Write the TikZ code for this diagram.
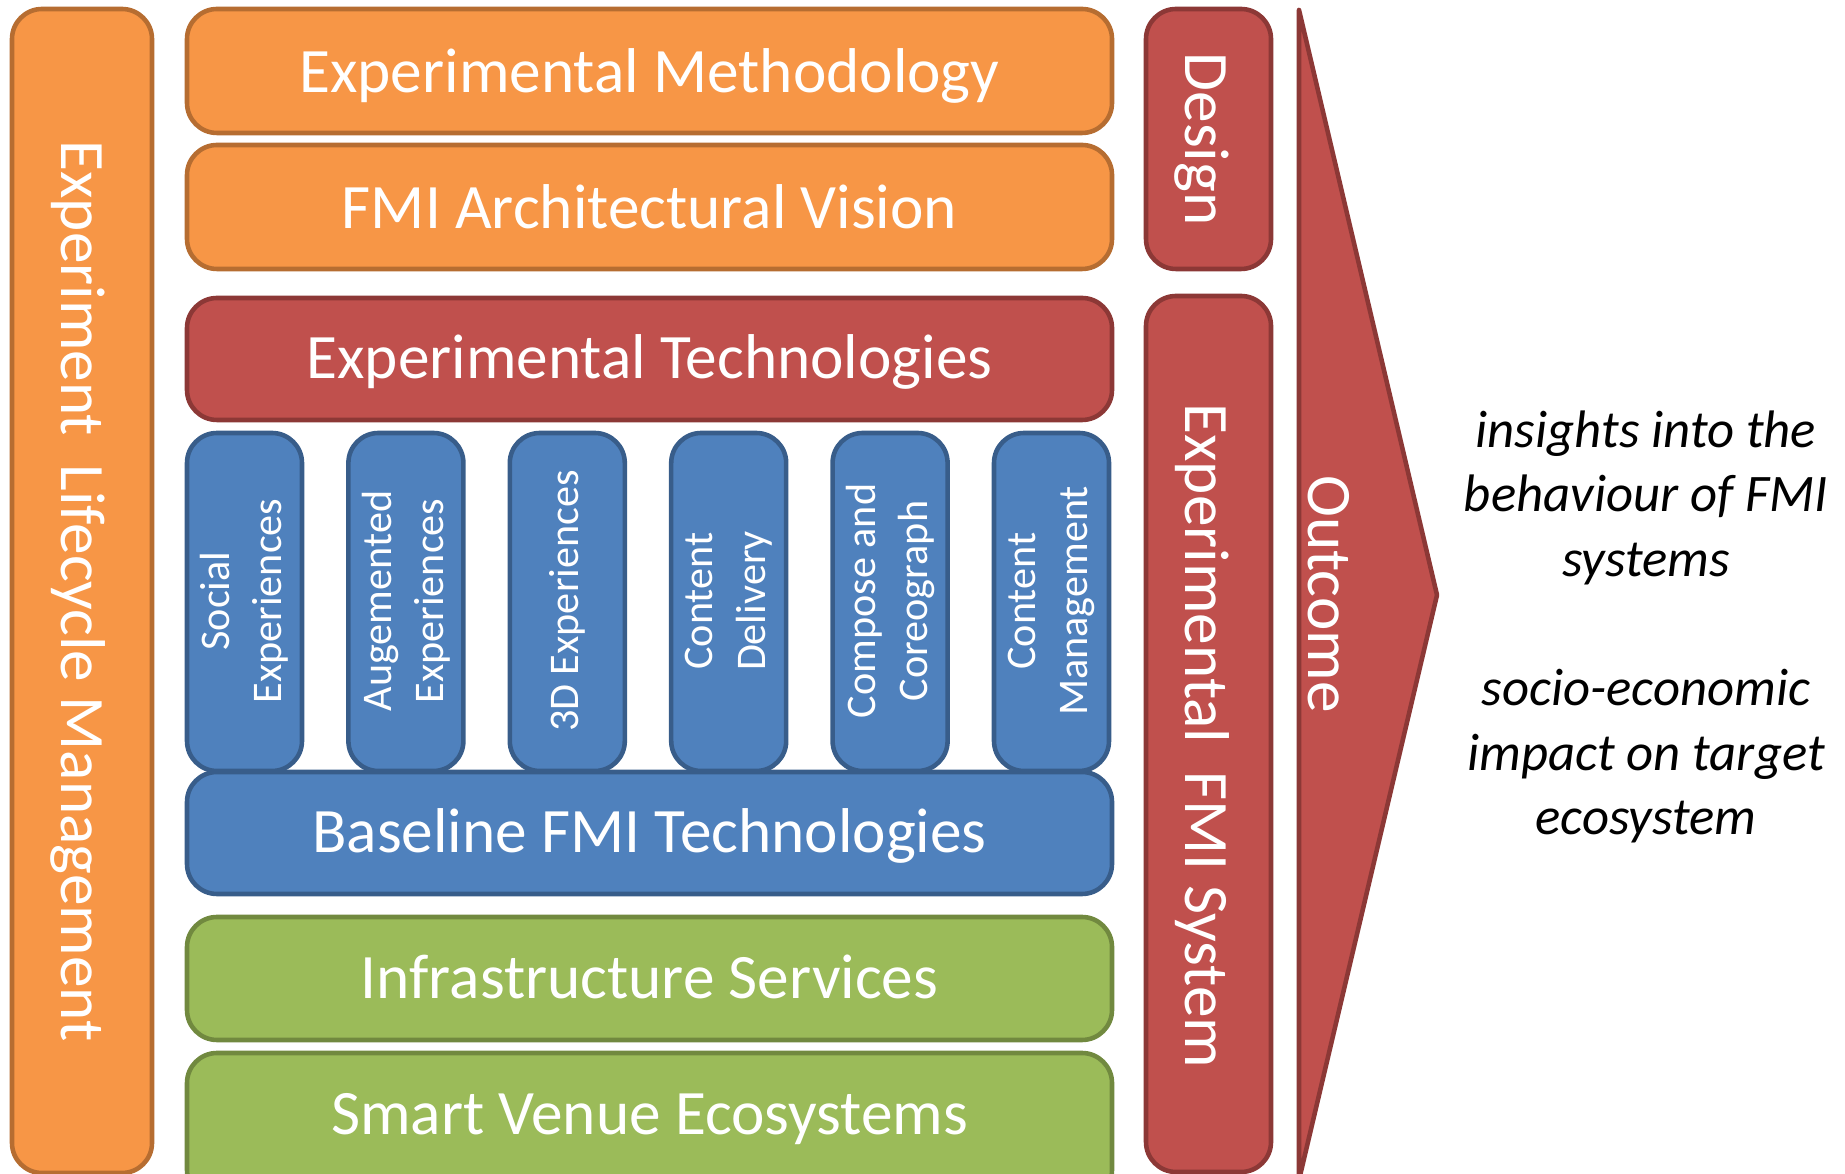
\documentclass[tikz,border=0pt]{standalone}
\usepackage{fontspec}
\setmainfont{Carlito}
\definecolor{orfill}{HTML}{F79646}
\definecolor{ordraw}{HTML}{B66D31}
\definecolor{rdfill}{HTML}{C0504D}
\definecolor{rddraw}{HTML}{8C3836}
\definecolor{blfill}{HTML}{4F81BD}
\definecolor{bldraw}{HTML}{385D8A}
\definecolor{grfill}{HTML}{9BBB59}
\definecolor{grdraw}{HTML}{71893F}

\begin{document}
\begin{tikzpicture}[x=0.01cm, y=-0.01cm,
	block/.style={line width=1.3pt, rounded corners=0.3cm},
	orblock/.style={block, fill=orfill, draw=ordraw},
	rdblock/.style={block, fill=rdfill, draw=rddraw},
	blblock/.style={block, fill=blfill, draw=bldraw},
	grblock/.style={block, fill=grfill, draw=grdraw},
	bigtext/.style={text=white, inner sep=0pt, font=\fontsize{18}{22}\selectfont},
	smalltext/.style={text=white, inner sep=0pt, align=center, rotate=90, font=\fontsize{12}{14.8}\selectfont},
	sidetext/.style={bigtext, rotate=-90}]
			%%%%% START %%%%%
			\useasboundingbox (0, 0) rectangle (1845, 1174);
			\clip (0, 0) rectangle (1845, 1174);
			
			% lifecycle column
			\draw[orblock] (12, 9) rectangle (152, 1173);
			\node[sidetext] (lifecycle) at (78, 591) {Experiment\ \ Lifecycle Management};
			
			% design layers
			\draw[orblock] (187, 9) rectangle (1112, 133);
			\node[bigtext, anchor=base] (method) at (649.5, 93) {Experimental Methodology};
			\draw[orblock] (187, 145) rectangle (1112, 269);
			\node[bigtext, anchor=base] (vision) at (649.5, 229) {FMI Architectural Vision};
			
			% experimental technologies
			\draw[rdblock] (187, 298) rectangle (1112, 420);
			\node[bigtext, anchor=base] (exptech) at (649.5, 379) {Experimental Technologies};
			
			\draw[blblock] (187, 433) rectangle (302, 771);
			\node[smalltext] (social) at (244.5, 601) {Social\\Experiences};
			\draw[blblock] (348.4, 433) rectangle (463.4, 771);
			\node[smalltext] (augmented) at (405.9, 601) {Augemented\\Experiences};
			\draw[blblock] (509.8, 433) rectangle (624.8, 771);
			\node[smalltext] (threed) at (567.3, 601) {3D Experiences};
			\draw[blblock] (671.2, 433) rectangle (786.2, 771);
			\node[smalltext] (delivery) at (728.7, 601) {Content\\Delivery};
			\draw[blblock] (832.6, 433) rectangle (947.6, 771);
			\node[smalltext] (compose) at (890.1, 601) {Compose and\\Coreograph};
			\draw[blblock] (994, 433) rectangle (1109, 771);
			\node[smalltext] (management) at (1051.5, 601) {Content\\Management};
			
			\draw[blblock] (187, 772) rectangle (1112, 894);
			\node[bigtext, anchor=base] (baseline) at (649.5, 853) {Baseline FMI Technologies};
			
			% infrastructure
			\draw[grblock] (187, 917) rectangle (1112, 1040);
			\node[bigtext, anchor=base] (infra) at (649.5, 999) {Infrastructure Services};
			\draw[grblock] (187, 1053) rectangle (1112, 1200);
			\node[bigtext, anchor=base] (venue) at (649.5, 1135) {Smart Venue Ecosystems};
			
			% right columns
			\draw[rdblock] (1146, 9) rectangle (1271, 269);
			\node[sidetext] (design) at (1202, 139) {Design};
			\draw[rdblock] (1146, 296) rectangle (1271, 1172);
			\node[sidetext] (fmisys) at (1202, 736) {Experimental\ \ FMI System};
			
			% outcome arrow
			\draw[fill=rdfill, draw=rddraw, line width=1.3pt, line join=round] (1299, 10) -- (1437, 595) -- (1299, 1180) -- cycle;
			\node[sidetext] (outcome) at (1329, 594) {Outcome};
			
			\node[align=center, font=\fontsize{15}{18.35}\selectfont\itshape] (insights) at (1646, 627) {insights into the\\behaviour of FMI\\systems\\[18.35pt]socio-economic\\impact on target\\ecosystem};
			%%%%% END %%%%%
\end{tikzpicture}
\end{document}
